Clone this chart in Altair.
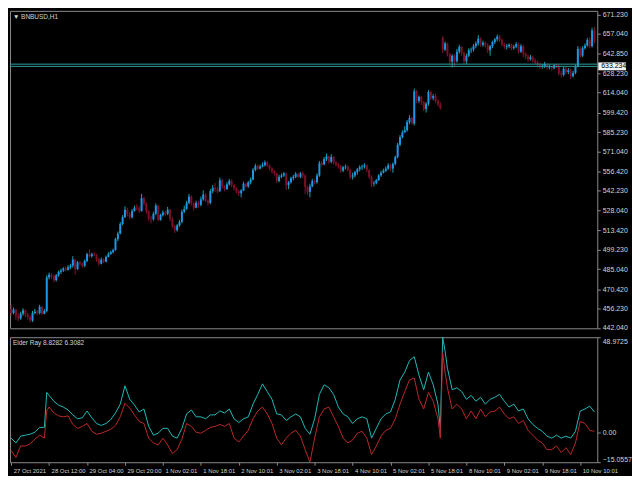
import json
import altair as alt
import pandas as pd

# ---------------- data ----------------
first_open = 456.0
gap_opens = {182: 654.0}

closes = [
    453, 455.5, 451, 449, 452.5, 455, 452, 450, 447.5, 453,
    454, 453, 457.5, 452.5, 454.5, 479, 481, 480, 477, 480.5,
    483, 484, 485.5, 484.5, 486.5, 487.5, 492, 485, 490, 489,
    487.5, 491, 496, 494.5, 496, 495.5, 492, 489, 492, 490.5,
    494, 496, 497.5, 499, 507, 511, 518, 523, 528.5, 525,
    523, 527.5, 530, 529.5, 527.5, 537, 533, 527.5, 522, 521.5,
    525.5, 531.5, 521, 524.5, 526.5, 525.5, 528.5, 522, 516.5, 513.5,
    517, 519.5, 527, 529, 533.5, 538, 533, 530, 533.5, 532,
    536, 539.5, 535, 533.5, 542, 544.5, 543.5, 542, 550, 545.5,
    543.5, 547, 549.5, 546.5, 544, 542, 540.5, 542.5, 547.5, 545.5,
    548.5, 550.5, 557.5, 560.5, 558.5, 560, 561, 563, 561, 558.5,
    556.5, 555, 549.5, 552.5, 553.5, 555, 546.5, 548.5, 551.5, 552.5,
    554.5, 552.5, 555, 553.5, 545, 541.5, 545.5, 549.5, 548.5, 553.5,
    562.5, 561.5, 565.5, 567.5, 563.5, 567, 563, 561.5, 560.5, 557,
    559.5, 560, 557.5, 552.5, 553.5, 556, 558, 559.5, 560, 561,
    557.5, 552.5, 547.5, 548, 550, 553.5, 555.5, 557, 558.5, 561,
    558.5, 562, 567, 576, 581.5, 585, 586.5, 592.5, 595.5, 591.5,
    615, 608, 611, 607.5, 602, 606, 614.5, 610, 611.5, 608,
    605.5, 603, 645.5, 650, 642.5, 636.5, 641, 637, 644, 647.5,
    643, 637, 641, 645, 645.5, 648, 650, 653.5, 649, 650.5,
    648.5, 645, 648, 651, 653, 655, 652.5, 649.5, 647.5, 648,
    649, 646.5, 647.5, 649.5, 644, 648, 642.5, 640.5, 638.5, 640,
    637.5, 636, 634.5, 633, 633.5, 635, 632.5, 633, 632, 634,
    633.5, 628, 627, 631.5, 629, 630.5, 626, 628.5, 633, 646,
    641, 646.5, 648.5, 652.5, 648, 659.5, 652,
]
highs = [
    459, 457, 456, 453, 454, 456.5, 455.5, 453, 451, 454.5,
    456, 455, 459, 458, 456, 480.5, 482.5, 482, 481, 481.5,
    484, 485.5, 486.5, 487, 488, 489, 494.5, 492.5, 491, 491,
    490, 492, 497, 499.5, 497, 497.5, 496, 493.5, 493.5, 493,
    495, 497.5, 498.5, 500, 508, 512.5, 519.5, 524.5, 531, 530,
    526.5, 529, 531.5, 532.5, 531, 540, 538, 534, 528, 524,
    527, 533, 531, 525.5, 528, 527.5, 530.5, 529, 523, 517.5,
    518, 521, 528.5, 531.5, 535, 540, 539, 534, 535, 535,
    538, 542.5, 540.5, 536, 543.5, 546.5, 548, 545, 552, 551,
    546.5, 548.5, 551, 550.5, 547, 545, 543, 543.5, 549, 548,
    549.5, 552, 559, 562, 561.5, 561.5, 563, 564.5, 564, 561.5,
    559.5, 557.5, 555.5, 554, 555, 556, 555.5, 549.5, 552.5, 554,
    556, 555.5, 556, 556.5, 554.5, 546, 547.5, 551, 550.5, 555,
    564, 564, 567, 569.5, 568, 569, 567.5, 564, 562.5, 561,
    560.5, 561.5, 561, 558.5, 555.5, 557, 559, 561, 561.5, 562.5,
    561.5, 558, 553.5, 549.5, 551, 554.5, 557, 558.5, 560, 562.5,
    562, 563, 568, 577.5, 583, 586.5, 589.5, 594, 597.5, 596.5,
    617, 616, 612, 611.5, 608, 607, 616, 615.5, 613, 613.5,
    609, 607, 655.5, 651.5, 650.5, 643, 642, 642, 646, 649,
    648, 644, 642.5, 646.5, 647, 649.5, 651.5, 656, 654.5, 652,
    651.5, 650, 649, 652, 654, 656.5, 656, 653.5, 650.5, 649.5,
    650, 650, 649, 651, 650.5, 649.5, 649, 643.5, 642, 641.5,
    641, 639, 637.5, 636, 635, 636.5, 635.5, 634.5, 633.5, 635,
    635, 634.5, 630, 633, 633, 632, 631.5, 630, 634.5, 648,
    647.5, 648, 650, 654, 654.5, 661.5, 662,
]
lows = [
    451, 452, 448, 447, 448, 451, 450, 448, 446, 446.5,
    452, 451.5, 452, 451.5, 452, 453.5, 477.5, 478, 475.5, 476,
    479.5, 481.5, 483, 483.5, 484, 485, 486, 481, 484.5, 487.5,
    486, 486.5, 490, 493.5, 493.5, 494.5, 490.5, 487.5, 488.5, 489.5,
    490, 493.5, 495.5, 496.5, 498.5, 505.5, 510.5, 517, 522.5, 523.5,
    521.5, 522, 527, 528, 526, 527, 531.5, 525.5, 520.5, 518.5,
    520.5, 524.5, 520, 520.5, 523.5, 524, 524.5, 520, 515, 511.5,
    512.5, 516, 518.5, 526, 528.5, 532.5, 531.5, 528, 529.5, 530,
    531, 535, 534, 531.5, 532.5, 540.5, 541.5, 540.5, 541.5, 544,
    542, 543, 546, 545, 542.5, 540.5, 538.5, 537.5, 542, 544.5,
    544.5, 547, 550, 556.5, 557.5, 558, 559.5, 560, 559.5, 557,
    555, 553.5, 548, 548.5, 551.5, 552.5, 543, 543.5, 547.5, 550,
    551.5, 551.5, 551.5, 551.5, 540, 539, 537.5, 545, 547, 547.5,
    552.5, 560, 561, 564, 562, 562.5, 561.5, 560, 558.5, 555.5,
    556, 558, 556.5, 551, 550.5, 552, 554, 556.5, 557.5, 558.5,
    556, 551, 545, 545.5, 547, 549.5, 552.5, 555, 556, 557.5,
    556.5, 555.5, 561, 566, 575, 580.5, 584.5, 585.5, 591, 590.5,
    590, 606.5, 606.5, 605, 600.5, 599.5, 604.5, 608.5, 608.5, 606.5,
    604, 601.5, 643, 644.5, 640.5, 634, 632.5, 633, 636, 642.5,
    641, 634.5, 635, 640, 643, 644, 646.5, 648.5, 647.5, 647.5,
    647, 643, 641, 646.5, 649.5, 651.5, 651, 648, 646, 645.5,
    646.5, 645, 645.5, 646.5, 642.5, 643, 640, 638.5, 636.5, 637.5,
    636, 634.5, 632.5, 631, 631.5, 632, 631, 631, 630, 631,
    632, 626.5, 625, 626, 627.5, 627.5, 624, 625, 627.5, 632.5,
    639.5, 640, 645.5, 647.5, 646.5, 647, 650,
]

price_ticks = [671.230, 657.040, 642.850, 628.230, 614.040, 599.420, 585.230,
               571.040, 556.420, 542.230, 528.040, 513.420, 499.230, 485.040,
               470.420, 456.230, 442.040]
bid_price = 633.234
ask_price = 634.85

time_label_bars = [0, 16, 32, 48, 64, 80, 96, 112, 128, 144, 160, 176, 192, 208, 224, 240]
time_labels = ['27 Oct 2021', '28 Oct 12:00', '29 Oct 04:00', '29 Oct 20:00',
               '1 Nov 02:01', '1 Nov 18:01', '2 Nov 10:01', '3 Nov 02:01',
               '3 Nov 18:01', '4 Nov 10:01', '5 Nov 02:01', '5 Nov 18:01',
               '8 Nov 10:01', '9 Nov 02:01', '9 Nov 18:01', '10 Nov 10:01']

ind_bars = [0, 2, 4, 6, 8, 10, 12, 14, 15, 16, 18, 20, 22, 24, 26, 28, 30, 32, 34, 36,
            38, 40, 42, 44, 46, 48, 50, 52, 54, 56, 58, 60, 62, 64, 66, 68, 70, 72, 74,
            76, 78, 80, 82, 84, 86, 88, 90, 92, 94, 96, 98, 100, 102, 104, 106, 108,
            110, 112, 114, 116, 118, 120, 122, 124, 126, 128, 130, 132, 134, 136, 138,
            140, 142, 144, 146, 148, 150, 152, 154, 156, 158, 160, 162, 164, 166, 168,
            170, 172, 174, 176, 178, 180, 181, 182, 183, 184, 186, 188, 190, 192, 194,
            196, 198, 200, 202, 204, 206, 208, 210, 212, 214, 216, 218, 220, 222, 224,
            226, 228, 230, 232, 234, 236, 238, 240, 242, 244, 246]
bull_power = [-2.7, -5.2, -1.7, -1.2, -0.7, 0.3, 2.8, 2.8, 20.7, 19.2, 16.2, 14.2, 13.2,
              11.7, 9.2, 7.2, 7.7, 11.2, 7.7, 4.8, 3.8, 4.8, 6.8, 10.2, 14.7, 24.1, 17.2,
              14.2, 10.7, 12.2, 3.3, -1.2, -0.2, 2.3, 2.3, -1.7, -2.7, 2.3, 9.7, 11.7,
              8.2, 8.2, 7.2, 9.2, 9.2, 11.2, 10.2, 12.2, 7.2, 5.3, 7.2, 8.2, 14.7, 19.7,
              25.1, 21.1, 17.2, 9.7, 9.2, 6.3, 8.2, 9.7, 8.2, 2.3, -0.7, 7.2, 19.7, 24.6,
              23.1, 19.7, 13.2, 9.7, 8.2, 4.8, 7.2, 8.2, 7.2, -2.7, 2.3, 7.2, 9.7, 10.7,
              17.2, 27.1, 31.1, 37.0, 39.0, 29.6, 22.1, 31.1, 24.6, 14.7, 2.3, 48.9725,
              42.0, 33.1, 22.1, 23.1, 21.1, 17.2, 19.2, 16.2, 18.2, 14.7, 17.2, 18.2,
              19.7, 16.2, 13.2, 14.7, 11.2, 12.2, 7.2, 4.3, 2.3, 0.8, -1.7, -2.7, -1.2,
              -2.7, -1.7, -2.7, 0.8, 11.2, 12.2, 13.7, 10.7]
bear_power = [-9.1, -12.6, -6.7, -6.7, -5.7, -3.2, -1.2, -2.7, 11.2, 13.2, 10.2, 8.7, 8.2,
              8.7, 4.3, 2.3, 3.3, 4.8, 0.8, -0.7, -0.2, 0.8, 1.8, 3.8, 8.2, 15.2, 12.7,
              9.2, 5.8, 4.8, -2.7, -5.2, -6.2, -2.7, -6.2, -10.6, -8.6, -3.2, 4.8, 3.3,
              0.3, -0.2, 1.3, 2.8, 3.3, 4.3, 3.3, 4.8, -2.7, -4.7, -1.7, 1.3, 7.2, 11.2,
              13.2, 9.7, 4.8, -2.7, -6.2, -2.7, -0.2, 1.3, -1.7, -8.6, -15.0557, -2.7, 8.2,
              12.2, 13.2, 8.2, 3.3, -2.7, -5.2, -3.7, -0.2, 0.8, -2.7, -11.1, -6.7, -1.7,
              1.3, 2.3, 7.2, 14.7, 21.1, 27.1, 28.1, 17.2, 12.2, 20.7, 16.2, 7.2, -2.7,
              41.0, 31.1, 23.1, 12.2, 14.7, 12.2, 7.2, 11.2, 7.2, 12.2, 8.2, 10.7, 11.2,
              13.2, 9.7, 7.2, 8.2, 4.8, 6.3, 1.3, -1.2, -3.7, -5.2, -8.6, -8.6, -6.7,
              -10.1, -7.6, -11.1, -5.2, 5.8, 4.8, 1.3, 0.8]
ind_ticks = [48.9725, 0.0, -15.0557]

# ---------------- tables ----------------
opens = [first_open] + closes[:-1]
for k, v in gap_opens.items():
    opens[k] = v
candles = pd.DataFrame({"i": list(range(len(closes))), "o": opens, "h": highs,
                        "l": lows, "c": closes})
candles["h"] = candles[["h", "o", "c"]].max(axis=1)
candles["l"] = candles[["l", "o", "c"]].min(axis=1)

ind = pd.DataFrame({"i": ind_bars, "bull": bull_power, "bear": bear_power})
ind_long = ind.melt("i", var_name="s", value_name="v")

one = pd.DataFrame({"k": [0]})

# ---------------- style ----------------
W = 592
H_MAIN = 320
H_IND = 126
FONT = "Liberation Sans"
TXT = "#D4D4D4"
FRAME = "#8C8C8C"
BULL_BODY = "#1E96E6"
BULL_WICK = "#12A6B0"
BEAR_BODY = "#7E0F28"
BEAR_WICK = "#8E1230"
CYAN = "#1FB8B8"
RED = "#B8282A"
HLINE = "#2A9E9E"

xscale = alt.Scale(domain=[-0.5, 247.2], nice=False, zero=False)
yscale = alt.Scale(domain=[441.8, 673.8], nice=False, zero=False)
yaxis = alt.Axis(orient="right", values=price_ticks, format=".3f", title=None,
                 labelColor=TXT, labelFont=FONT, labelFontSize=7, tickColor=FRAME,
                 tickSize=3, domain=False, grid=False, labelPadding=2,
                 labelFlush=False, labelOverlap=False)
up = "datum.c >= datum.o"

wicks = alt.Chart(candles).mark_rule(strokeWidth=1).encode(
    x=alt.X("i:Q", scale=xscale, axis=None),
    y=alt.Y("l:Q", scale=yscale, axis=yaxis),
    y2="h:Q",
    color=alt.condition(up, alt.value(BULL_WICK), alt.value(BEAR_WICK)),
)
bodies = alt.Chart(candles).mark_rule(strokeWidth=2).encode(
    x=alt.X("i:Q", scale=xscale, axis=None),
    y=alt.Y("o:Q", scale=yscale, axis=yaxis),
    y2="c:Q",
    color=alt.condition(up, alt.value(BULL_BODY), alt.value(BEAR_BODY)),
)
bid_line = alt.Chart(one).mark_rule(color=HLINE, strokeWidth=1).encode(
    y=alt.Y(datum=bid_price, scale=yscale, axis=yaxis))
ask_line = alt.Chart(one).mark_rule(color=HLINE, strokeWidth=1).encode(
    y=alt.Y(datum=ask_price, scale=yscale, axis=yaxis))
bid_box = alt.Chart(one).mark_rule(color="#F2F2F2", strokeWidth=8).encode(
    x=alt.value(W + 1), x2=alt.value(W + 29),
    y=alt.Y(datum=bid_price, scale=yscale, axis=yaxis))
bid_text = alt.Chart(one).mark_text(align="left", baseline="middle", font=FONT,
                                    fontSize=7, color="#000000").encode(
    x=alt.value(W + 4), y=alt.Y(datum=bid_price, scale=yscale, axis=yaxis),
    text=alt.value(f"{bid_price:.3f}"))
title = alt.Chart(one).mark_text(align="left", baseline="middle", font=FONT,
                                 fontSize=6.5, color=TXT).encode(
    x=alt.value(3), y=alt.value(6), text=alt.value("▼ BNBUSD,H1"))

main = alt.layer(wicks, bodies, ask_line, bid_line, bid_box, bid_text, title).properties(
    width=W, height=H_MAIN)

label_map = json.dumps({str(b): t for b, t in zip(time_label_bars, time_labels)})
xaxis = alt.Axis(values=time_label_bars, labelExpr=f"{label_map}['' + datum.value]",
                 title=None, labelColor=TXT, labelFont=FONT, labelFontSize=6,
                 labelAlign="left", labelOffset=2, labelPadding=2, tickColor=FRAME,
                 tickSize=3, domain=False, grid=False, labelOverlap=False,
                 labelFlush=False, labelBound=False)
iyscale = alt.Scale(domain=[-15.0557, 48.9725], nice=False, zero=False)
iyaxis = alt.Axis(orient="right", values=ind_ticks, title=None,
                  labelExpr="datum.value == 0 ? '0.00' : format(datum.value, '.4f')",
                  labelColor=TXT, labelFont=FONT, labelFontSize=7, tickColor=FRAME,
                  tickSize=3, domain=False, grid=False, labelPadding=2,
                  labelFlush=True, labelOverlap=False)

lines = alt.Chart(ind_long).mark_line(strokeWidth=1, interpolate="linear").encode(
    x=alt.X("i:Q", scale=xscale, axis=xaxis),
    y=alt.Y("v:Q", scale=iyscale, axis=iyaxis),
    color=alt.Color("s:N", scale=alt.Scale(domain=["bull", "bear"], range=[CYAN, RED]),
                    legend=None),
)
ind_title = alt.Chart(one).mark_text(align="left", baseline="middle", font=FONT,
                                     fontSize=6.5, color=TXT).encode(
    x=alt.value(3), y=alt.value(6), text=alt.value("Elder Ray 8.8282 6.3082"))
indicator = alt.layer(lines, ind_title).properties(width=W, height=H_IND)

chart = alt.vconcat(main, indicator, spacing=2).properties(
    background="#000000", padding=0
).configure_view(stroke=FRAME, strokeWidth=1, fill="#000000")

chart.save("out.html", embed_options={"renderer": "svg", "actions": False})
